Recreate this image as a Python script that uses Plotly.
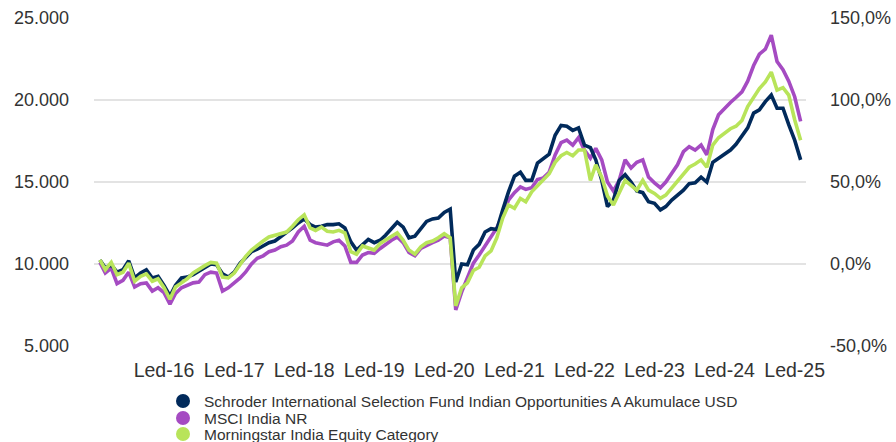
import pandas as pd
import plotly.graph_objects as go

# ---------------- data ----------------
dates = pd.date_range("2015-02-01", periods=121, freq="MS")

fund = [10250, 9750, 9950, 9500, 9650, 10200, 9150, 9450, 9650, 9150,
        9250, 8700, 8050, 8700, 9150, 9200, 9350, 9550, 9750, 10000,
        9950, 9400, 9200, 9500, 10050, 10350, 10750, 10900, 11100, 11300,
        11400, 11650, 11900, 12200, 12500, 12750, 12400, 12250, 12300, 12400,
        12400, 12450, 12200, 11350, 10850, 11200, 11500, 11300, 11450, 11750,
        12150, 12550, 12250, 11600, 11700, 12200, 12600, 12750, 12800, 13150,
        13350, 8900, 10000, 9950, 10850, 11200, 11950, 12150, 12100, 13300,
        14400, 15350, 15600, 15100, 15100, 16150, 16450, 16700, 17850, 18450,
        18400, 18150, 18300, 17250, 17100, 16350, 15100, 13500, 13900, 15100,
        15450, 15000, 14450, 14350, 13800, 13700, 13300, 13500, 13900, 14200,
        14500, 14900, 14950, 15300, 15000, 16200, 16450, 16650, 16950, 17300,
        17800, 18300, 19200, 19400, 19900, 20300, 19500, 19500, 18500, 17550,
        16350]

index_nr = [10100, 9450, 9750, 8800, 9000, 9500, 8600, 8800, 8850, 8350,
            8550, 8250, 7550, 8200, 8550, 8700, 8850, 8900, 9350, 9500,
            9450, 8350, 8550, 8850, 9150, 9500, 10000, 10350, 10500, 10750,
            10850, 11050, 11150, 11400, 11950, 12300, 11450, 11300, 11200, 11150,
            11350, 11450, 11100, 10100, 10100, 10550, 10700, 10650, 10950, 11200,
            11450, 11650, 11300, 10700, 10500, 10950, 11150, 11300, 11450, 11700,
            11600, 7200, 8300, 9150, 10050, 10550, 11100, 11600, 12200, 13000,
            13900, 14350, 14700, 14550, 14650, 15150, 15250, 15600, 16650, 17400,
            17550, 17250, 17700, 16950, 16450, 17050, 16350, 15000, 14450, 15100,
            16350, 15850, 16200, 16350, 15300, 14950, 14650, 15000, 15500, 16050,
            16850, 17150, 16950, 17250, 16650, 18200, 19100, 19500, 19850, 20150,
            20500, 21150, 22100, 22800, 23100, 23950, 22350, 21850, 21150, 20200,
            18700]

category = [10250, 9650, 10100, 9350, 9500, 10050, 8950, 9250, 9400, 8950,
            9100, 8550, 7850, 8600, 8850, 9100, 9450, 9700, 9900, 10100,
            10050, 9200, 9150, 9450, 10000, 10450, 10850, 11150, 11400, 11650,
            11750, 11900, 11950, 12300, 12700, 13000, 12200, 12050, 12250, 12000,
            11950, 12050, 11900, 10750, 10600, 11100, 10950, 10850, 11250, 11450,
            11650, 11900, 11450, 10850, 10600, 11050, 11300, 11400, 11600, 11850,
            11600, 7450, 8550, 8850, 9600, 9800, 10500, 10800, 11600, 12800,
            13600, 13400, 14000, 13800, 14400, 14750, 15100, 15500, 16200, 16600,
            16800, 16600, 16950, 16950, 15100, 16050, 15300, 14150, 13600, 14400,
            15100, 14800, 14500, 15100, 14500, 14300, 14000, 14200, 14650, 15050,
            15550, 15900, 16100, 16350, 15900, 17250, 17700, 18000, 18250, 18400,
            18750, 19600, 20200, 20700, 21100, 21700, 20600, 20750, 20300, 18800,
            17550]

series_names = ["Schroder International Selection Fund Indian Opportunities A Akumulace USD",
                "MSCI India NR",
                "Morningstar India Equity Category"]

base_value = 10000
left_tick_vals = [5000, 10000, 15000, 20000, 25000]
left_tick_text = ["5.000", "10.000", "15.000", "20.000", "25.000"]
right_tick_vals = [-0.5, 0.0, 0.5, 1.0, 1.5]
right_tick_text = ["-50,0%", "0,0%", "50,0%", "100,0%", "150,0%"]
x_tick_vals = ["2016-01-01", "2017-01-01", "2018-01-01", "2019-01-01", "2020-01-01",
               "2021-01-01", "2022-01-01", "2023-01-01", "2024-01-01", "2025-01-01"]
x_tick_text = ["Led-16", "Led-17", "Led-18", "Led-19", "Led-20",
               "Led-21", "Led-22", "Led-23", "Led-24", "Led-25"]

# ---------------- styling ----------------
C_NAVY = "#012a5b"
C_PURPLE = "#a54bc2"
C_GREEN = "#b8e45a"
TXT = "#333333"
FONT = "Liberation Sans, Arial, sans-serif"

W, H = 896, 442
ML, MR, MT, MB = 94, 90, 18, 96
LW = 3.6

fig = go.Figure()
# draw order: purple, navy, green on top
fig.add_trace(go.Scatter(x=dates, y=index_nr, mode="lines", name=series_names[1],
                         line=dict(color=C_PURPLE, width=LW), showlegend=False))
fig.add_trace(go.Scatter(x=dates, y=fund, mode="lines", name=series_names[0],
                         line=dict(color=C_NAVY, width=LW), showlegend=False))
fig.add_trace(go.Scatter(x=dates, y=category, mode="lines", name=series_names[2],
                         line=dict(color=C_GREEN, width=LW), showlegend=False))
# cumulative-return view of the fund on the right axis (invisible, drives axis)
fig.add_trace(go.Scatter(x=dates, y=[v / base_value - 1 for v in fund], yaxis="y2",
                         mode="lines", line=dict(color="rgba(0,0,0,0)", width=0),
                         hoverinfo="skip", showlegend=False))

fig.update_layout(
    width=W, height=H,
    margin=dict(l=ML, r=MR, t=MT, b=MB, autoexpand=False),
    paper_bgcolor="white", plot_bgcolor="white",
    font=dict(family=FONT, color=TXT, size=18),
    showlegend=False,
    xaxis=dict(
        range=["2015-01-01", "2025-03-01"],
        tickvals=x_tick_vals, ticktext=x_tick_text, automargin=False,
        showgrid=False, zeroline=False, showline=False, ticks="",
        tickfont=dict(size=19.5, color=TXT), ticklabelstandoff=10,
    ),
    yaxis=dict(
        range=[5000, 25000], tickvals=left_tick_vals, ticktext=left_tick_text,
        showgrid=True, gridcolor="#e3e3e3", gridwidth=2, automargin=False,
        zeroline=False, showline=False, ticks="",
        tickfont=dict(size=18, color=TXT), ticklabelstandoff=24,
    ),
    yaxis2=dict(
        range=[-0.5, 1.5], tickvals=right_tick_vals, ticktext=right_tick_text,
        overlaying="y", side="right", showgrid=False, zeroline=False,
        showline=False, ticks="", automargin=False,
        tickfont=dict(size=18, color=TXT), ticklabelstandoff=23,
    ),
)

# custom legend (circle markers + text rows)
plot_w = W - ML - MR
plot_h = H - MT - MB


def px_to_paper(px, py):
    return (px - ML) / plot_w, (H - MB - py) / plot_h


legend_colors = [C_NAVY, C_PURPLE, C_GREEN]
row_y = [401, 418, 434]
for name, col, py in zip(series_names, legend_colors, row_y):
    cx, cy = px_to_paper(183, py)
    fig.add_shape(type="circle", xref="paper", yref="paper",
                  xsizemode="pixel", ysizemode="pixel",
                  xanchor=cx, yanchor=cy, x0=-7, x1=7, y0=-7, y1=7,
                  fillcolor=col, line=dict(width=0))
    tx, ty = px_to_paper(202, py)
    fig.add_annotation(x=tx, y=ty, xref="paper", yref="paper", text=name,
                       showarrow=False, xanchor="left", yanchor="middle",
                       font=dict(size=15.5, color=TXT, family=FONT))

fig.write_html("out.html", config={"displayModeBar": False},
               post_script="document.body.style.margin='0';")
